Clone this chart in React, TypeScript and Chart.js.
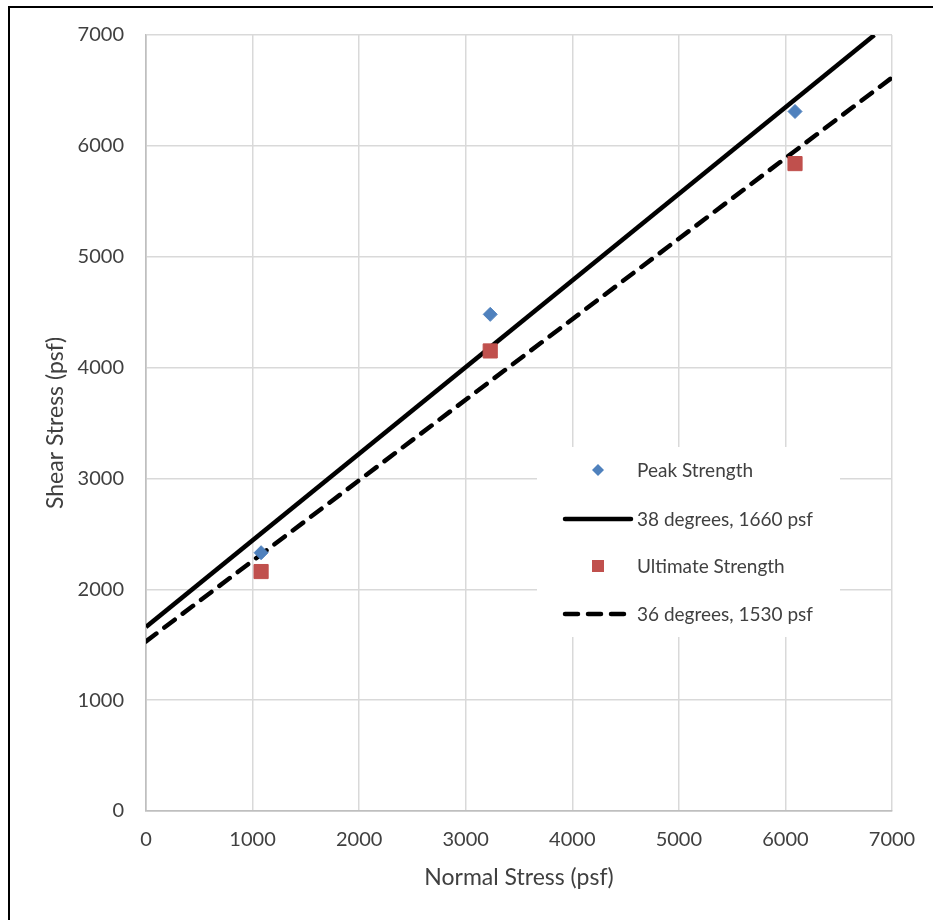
import React, { useEffect, useRef } from 'react';
import { Chart, registerables } from 'chart.js';

Chart.register(...registerables);

// ---- Data ----
const peakX = [1080, 3230, 6090];
const peakY = [2330, 4480, 6310];
const ultX = [1080, 3230, 6090];
const ultY = [2160, 4150, 5840];
const line38X = [0, 6835];
const line38Y = [1660, 7000];
const line36X = [0, 7000];
const line36Y = [1530, 6616];
const seriesLabels = ['Peak Strength', '38 degrees, 1660 psf', 'Ultimate Strength', '36 degrees, 1530 psf'];
const xTitle = 'Normal Stress (psf)';
const yTitle = 'Shear Stress (psf)';
const axisMin = 0;
const axisMax = 7000;
const axisStep = 1000;

const FONT = 'Lato, "Open Sans", sans-serif';
const TEXT = '#404040';
const BLUE = '#4F81BD';
const RED = '#C0504D';

const toPts = (xs: number[], ys: number[]) => xs.map((x, i) => ({ x, y: ys[i] }));

const legendPlugin = {
  id: 'insideLegend',
  afterDraw(chart: any) {
    const ctx = chart.ctx;
    const box = { x: 527, y: 439, w: 303, h: 190 };
    ctx.save();
    ctx.fillStyle = '#ffffff';
    ctx.fillRect(box.x, box.y, box.w, box.h);
    const rows = [462, 511, 558, 606];
    const markerX = 588;
    const lineX0 = 555;
    const lineX1 = 621;
    const textX = 627;
    ctx.font = `19px ${FONT}`;
    ctx.textBaseline = 'middle';
    ctx.textAlign = 'left';
    rows.forEach((ry, i) => {
      const ds = chart.data.datasets[i];
      if (i === 0) {
        const r = 6;
        ctx.fillStyle = BLUE;
        ctx.beginPath();
        ctx.moveTo(markerX - r, ry);
        ctx.lineTo(markerX, ry - r);
        ctx.lineTo(markerX + r, ry);
        ctx.lineTo(markerX, ry + r);
        ctx.closePath();
        ctx.fill();
      } else if (i === 2) {
        ctx.fillStyle = RED;
        ctx.fillRect(markerX - 6, ry - 6, 12, 12);
      } else {
        ctx.strokeStyle = '#000';
        ctx.lineWidth = 4.5;
        ctx.lineCap = 'round';
        ctx.setLineDash(ds.borderDash || []);
        ctx.beginPath();
        ctx.moveTo(lineX0, ry);
        ctx.lineTo(lineX1, ry);
        ctx.stroke();
        ctx.setLineDash([]);
      }
      ctx.fillStyle = TEXT;
      ctx.fillText(seriesLabels[i], textX, ry + 1);
    });
    ctx.restore();
  },
};

export default function App() {
  const ref = useRef<HTMLCanvasElement | null>(null);

  useEffect(() => {
    document.documentElement.style.overflow = 'hidden';
    const canvas = ref.current;
    if (!canvas) return;
    const gridColor = (c: any) => (c.tick && c.tick.value === 0 ? '#bfbfbf' : '#d9d9d9');
    const plainTick = (v: any) => String(v);
    const chart = new Chart(canvas, {
      type: 'scatter',
      data: {
        datasets: [
          {
            label: seriesLabels[0],
            data: toPts(peakX, peakY),
            pointStyle: 'rectRot',
            pointRadius: 7,
            pointBackgroundColor: BLUE,
            pointBorderColor: BLUE,
            pointBorderWidth: 1,
            showLine: false,
            order: 0,
          },
          {
            label: seriesLabels[1],
            data: toPts(line38X, line38Y),
            showLine: true,
            borderColor: '#000000',
            borderWidth: 4.5,
            pointRadius: 0,
            borderCapStyle: 'butt',
            order: 1,
          },
          {
            label: seriesLabels[2],
            data: toPts(ultX, ultY),
            pointStyle: 'rect',
            pointRadius: 10,
            pointBackgroundColor: RED,
            pointBorderColor: RED,
            pointBorderWidth: 1,
            showLine: false,
            order: 0,
          },
          {
            label: seriesLabels[3],
            data: toPts(line36X, line36Y),
            showLine: true,
            borderColor: '#000000',
            borderWidth: 4.5,
            borderDash: [13, 10],
            borderCapStyle: 'round',
            pointRadius: 0,
            order: 1,
          },
        ],
      },
      options: {
        responsive: false,
        animation: false,
        layout: { padding: { left: 0, right: 41, top: 27, bottom: 0 } },
        plugins: {
          legend: { display: false },
          tooltip: { enabled: false },
        },
        scales: {
          x: {
            type: 'linear',
            min: axisMin,
            max: axisMax,
            ticks: {
              stepSize: axisStep,
              color: TEXT,
              font: { family: FONT, size: 20 },
              padding: 17,
              callback: plainTick,
            },
            grid: { color: gridColor, lineWidth: 1.5, drawTicks: false },
            border: { color: '#bfbfbf', width: 1.5 },
            title: {
              display: true,
              text: xTitle,
              color: TEXT,
              font: { family: FONT, size: 23 },
              padding: { top: 0, bottom: 17 },
            },
            afterFit: (s: any) => {
              s.height = 97;
              s.paddingLeft = 0;
              s.paddingRight = 0;
            },
          },
          y: {
            type: 'linear',
            min: axisMin,
            max: axisMax,
            ticks: {
              stepSize: axisStep,
              color: TEXT,
              font: { family: FONT, size: 20 },
              padding: 22,
              callback: plainTick,
            },
            grid: { color: gridColor, lineWidth: 1.5, drawTicks: false },
            border: { color: '#bfbfbf', width: 1.5 },
            title: {
              display: true,
              text: yTitle,
              color: TEXT,
              font: { family: FONT, size: 23 },
              padding: { top: 32, bottom: 0 },
            },
            afterFit: (s: any) => {
              s.width = 136;
              s.paddingTop = 0;
              s.paddingBottom = 0;
            },
          },
        },
      },
      plugins: [legendPlugin],
    } as any);
    return () => chart.destroy();
  }, []);

  return (
    <div
      style={{
        position: 'absolute',
        left: 8,
        top: 6,
        borderTop: '2px solid #000',
        borderLeft: '2px solid #000',
        width: 923,
        height: 914,
        background: '#fff',
        overflow: 'hidden',
      }}
    >
      <canvas ref={ref} width={923} height={900} style={{ display: 'block' }} />
    </div>
  );
}
